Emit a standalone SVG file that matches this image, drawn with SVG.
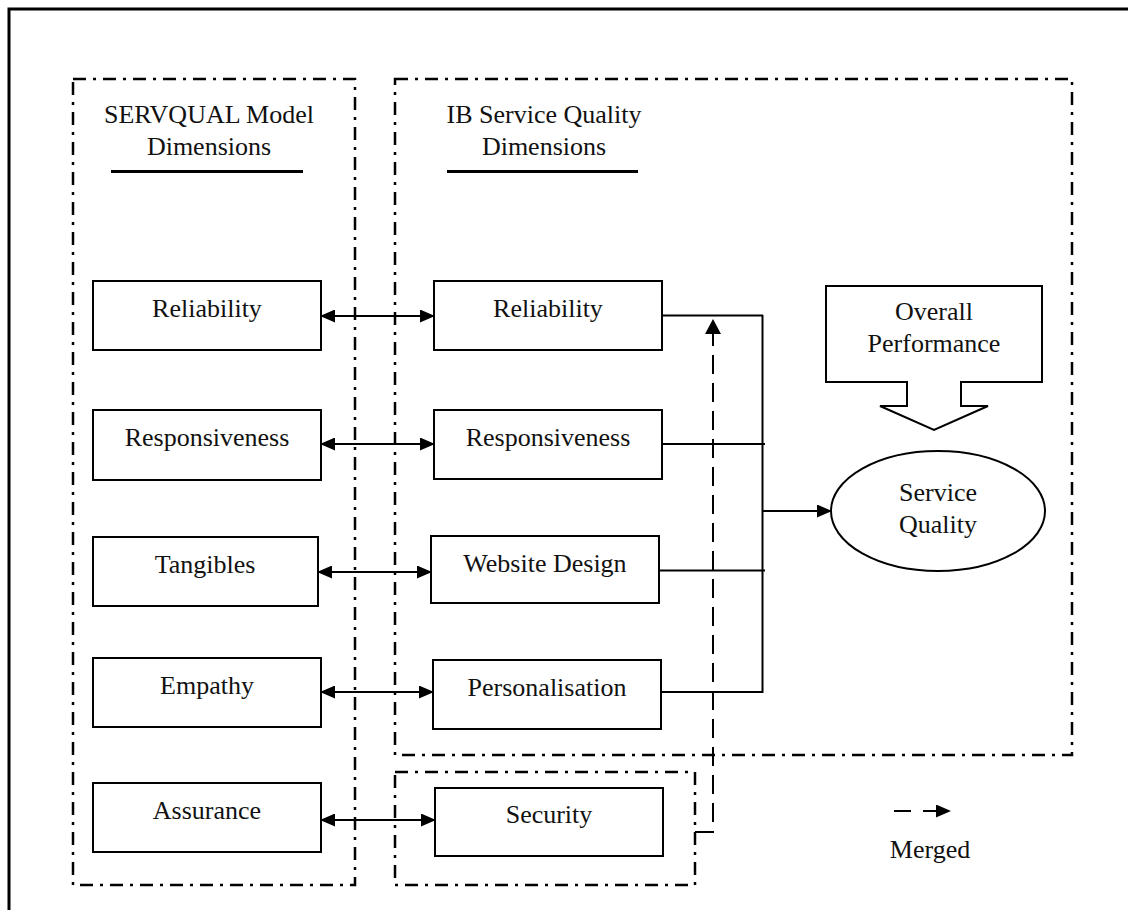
<svg xmlns="http://www.w3.org/2000/svg" width="1128" height="910" viewBox="0 0 1128 910">
<style>
text{font-family:"Liberation Serif","Times New Roman",serif;font-size:26px;fill:#111;text-anchor:middle}
.box{fill:#fff;stroke:#000;stroke-width:2}
.dd{fill:none;stroke:#000;stroke-width:2.5;stroke-dasharray:13 7 3 7}
.ln{fill:none;stroke:#000;stroke-width:2}
.dash{fill:none;stroke:#000;stroke-width:2;stroke-dasharray:19 9}
</style>
<defs>
<marker id="ah" viewBox="0 0 15 13" markerWidth="15" markerHeight="13" refX="14" refY="6.5" orient="auto-start-reverse" markerUnits="userSpaceOnUse">
<path d="M0,0 L15,6.5 L0,13 Z" fill="#000"/>
</marker>
<marker id="mh" viewBox="0 0 15 16" markerWidth="15" markerHeight="16" refX="14" refY="8" orient="auto" markerUnits="userSpaceOnUse">
<path d="M0,0 L15,8 L0,16 Z" fill="#000"/>
</marker>
</defs>
<rect width="1128" height="910" fill="#fff"/>
<g id="frame">
<path d="M9,910 V9 H1128" fill="none" stroke="#000" stroke-width="3"/>
</g>
<g id="groups">
<rect class="dd" x="73" y="79" width="282" height="806"/>
<rect class="dd" x="395" y="79" width="677" height="676"/>
<rect class="dd" x="395" y="772" width="300" height="113"/>
</g>
<g id="headers">
<text x="209" y="123">SERVQUAL Model</text>
<text x="209" y="155">Dimensions</text>
<line x1="111" y1="171.5" x2="303" y2="171.5" stroke="#000" stroke-width="3"/>
<text x="544" y="123">IB Service Quality</text>
<text x="544" y="155">Dimensions</text>
<line x1="447" y1="171.5" x2="638" y2="171.5" stroke="#000" stroke-width="3"/>
</g>
<g id="connectors">
<line class="ln" x1="321" y1="316" x2="434" y2="316" marker-start="url(#ah)" marker-end="url(#ah)"/>
<line class="ln" x1="321" y1="444" x2="434" y2="444" marker-start="url(#ah)" marker-end="url(#ah)"/>
<line class="ln" x1="318" y1="572" x2="431" y2="572" marker-start="url(#ah)" marker-end="url(#ah)"/>
<line class="ln" x1="321" y1="692" x2="433" y2="692" marker-start="url(#ah)" marker-end="url(#ah)"/>
<line class="ln" x1="321" y1="820" x2="435" y2="820" marker-start="url(#ah)" marker-end="url(#ah)"/>
<line class="ln" x1="662" y1="315.5" x2="763" y2="315.5"/>
<line class="ln" x1="662" y1="444" x2="765" y2="444"/>
<line class="ln" x1="659" y1="570.5" x2="765" y2="570.5"/>
<line class="ln" x1="661" y1="692" x2="763" y2="692"/>
<line class="ln" x1="762.5" y1="315" x2="762.5" y2="693"/>
<line class="ln" x1="762.5" y1="511" x2="831" y2="511" marker-end="url(#ah)"/>
<path class="dash" d="M695,832 H713 V320" marker-end="url(#mh)"/>
</g>
<g id="n-servqual">
<g id="s-reliability"><rect class="box" x="93" y="281" width="228" height="69"/><text x="207" y="317">Reliability</text></g>
<g id="s-responsiveness"><rect class="box" x="93" y="410" width="228" height="70"/><text x="207" y="446">Responsiveness</text></g>
<g id="s-tangibles"><rect class="box" x="93" y="537" width="225" height="69"/><text x="205" y="573">Tangibles</text></g>
<g id="s-empathy"><rect class="box" x="93" y="658" width="228" height="69"/><text x="207" y="694">Empathy</text></g>
<g id="s-assurance"><rect class="box" x="93" y="783" width="228" height="69"/><text x="207" y="819">Assurance</text></g>
</g>
<g id="n-ib">
<g id="i-reliability"><rect class="box" x="434" y="281" width="228" height="69"/><text x="548" y="317">Reliability</text></g>
<g id="i-responsiveness"><rect class="box" x="434" y="410" width="228" height="69"/><text x="548" y="446">Responsiveness</text></g>
<g id="i-website"><rect class="box" x="431" y="536" width="228" height="67"/><text x="545" y="572">Website Design</text></g>
<g id="i-personalisation"><rect class="box" x="433" y="660" width="228" height="69"/><text x="547" y="696">Personalisation</text></g>
<g id="i-security"><rect class="box" x="435" y="788" width="228" height="68"/><text x="549" y="823">Security</text></g>
</g>
<g id="overall">
<path class="box" d="M826,286 H1042 V382 H961 V406 H988 L934,430 L880,406 H907 V382 H826 Z"/>
<text x="934" y="320">Overall</text>
<text x="934" y="352">Performance</text>
</g>
<g id="service-quality">
<ellipse class="box" cx="938" cy="511" rx="107" ry="60"/>
<text x="938" y="501">Service</text>
<text x="938" y="533">Quality</text>
</g>
<g id="legend">
<path d="M894,811 H950" fill="none" stroke="#000" stroke-width="2" stroke-dasharray="17 12" marker-end="url(#ah)"/>
<text x="930" y="858">Merged</text>
</g>
</svg>
